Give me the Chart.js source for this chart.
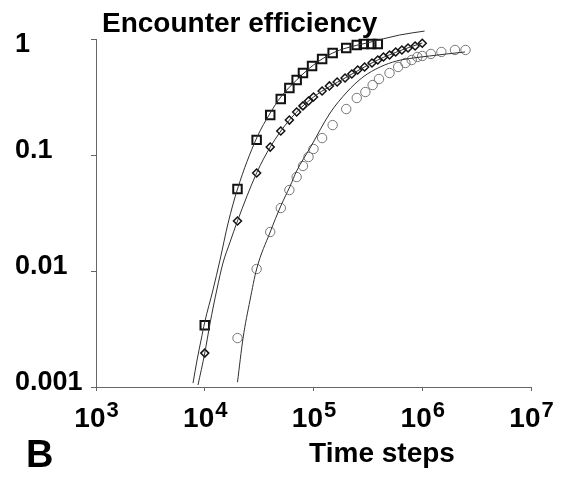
<!DOCTYPE html>
<html>
<head>
<meta charset="utf-8">
<script src="https://cdn.jsdelivr.net/npm/chart.js@4/dist/chart.umd.min.js"></script>
<style>
  body { margin: 0; background: #ffffff; }
</style>
</head>
<body>
<canvas id="chart" width="571" height="480"></canvas>
<script>
// Tick labels
const xTickExps = [3, 4, 5, 6, 7];
const yTickValues = [0.001, 0.01, 0.1, 1];
const yTickLabels = ["0.001", "0.01", "0.1", "1"];

// Measured points (squares)
const squareSteps = [1e4, 2e4, 3e4, 4e4, 5e4, 6e4, 7e4, 8e4, 9.7e4, 1.2e5, 1.5e5, 2e5, 2.5e5, 2.9e5, 3.4e5, 3.9e5];
const squareEff = [0.0034, 0.051, 0.135, 0.221, 0.304, 0.378, 0.443, 0.509, 0.585, 0.672, 0.757, 0.836, 0.888, 0.906, 0.906, 0.906];

// Measured points (diamonds)
const diamondSteps = [1e4, 2e4, 3e4, 4e4, 5e4, 6e4, 7e4, 8e4, 9e4, 1e5,
    1.2e5, 1.4e5, 1.65e5, 1.95e5, 2.25e5, 2.55e5, 2.95e5, 3.45e5, 3.9e5, 4.4e5,
    5e5, 5.7e5, 6.5e5, 7.4e5, 8.6e5, 1e6];
const diamondEff = [0.00196, 0.027, 0.070, 0.117, 0.161, 0.200, 0.235, 0.265, 0.292, 0.316,
    0.356, 0.394, 0.426, 0.461, 0.499, 0.541, 0.574, 0.621, 0.659, 0.700,
    0.728, 0.773, 0.804, 0.836, 0.870, 0.92];

// Measured points (circles)
const circleSteps = [2e4, 3e4, 4e4, 5e4, 6e4, 7e4, 8e4, 9e4, 1e5, 1.2e5, 1.5e5, 2e5, 2.5e5,
    3e5, 3.5e5, 4e5, 5e5, 6e5, 7e5, 8e5, 9e5, 1e6, 1.2e6, 1.5e6, 2e6, 2.5e6];
const circleEff = [0.00264, 0.0104, 0.0217, 0.0349, 0.0499, 0.0646, 0.0804, 0.0961, 0.1127, 0.140, 0.181, 0.249, 0.310,
    0.349, 0.401, 0.452, 0.509, 0.574, 0.621, 0.659, 0.700, 0.714, 0.743, 0.773, 0.804, 0.804];

// Fitted curves
const squareFitSteps = [7.8e3, 8.5e3, 9.25e3, 1e4, 1.19e4, 1.38e4, 1.64e4, 2e4, 3e4, 4e4, 5e4, 7e4, 1e5, 1.5e5, 2e5, 3.1e5, 6.2e5, 1.05e6];
const squareFitEff = [0.00108, 0.00171, 0.00254, 0.00363, 0.00686, 0.0124, 0.0259, 0.0509, 0.140, 0.230, 0.316, 0.443, 0.597, 0.757, 0.836, 0.924, 1.083, 1.17];

const diamondFitSteps = [8.67e3, 1e4, 1.12e4, 1.29e4, 1.47e4, 1.71e4, 2e4, 3e4, 4e4, 6e4, 1e5, 1.95e5, 3.9e5, 6.5e5, 1e6];
const diamondFitEff = [0.00104, 0.00196, 0.00356, 0.00686, 0.0117, 0.0178, 0.027, 0.070, 0.117, 0.200, 0.316, 0.461, 0.659, 0.804, 0.924];

const circleFitSteps = [2e4, 2.25e4, 2.61e4, 3e4, 4e4, 5e4, 6.1e4, 7e4, 9.3e4, 1.42e5, 2.03e5, 2.85e5, 4.1e5, 5.8e5, 8.3e5, 1.17e6, 1.68e6, 2.47e6];
const circleFitEff = [0.0011, 0.00264, 0.00562, 0.0104, 0.0217, 0.0363, 0.054, 0.0728, 0.115, 0.230, 0.349, 0.470, 0.574, 0.646, 0.686, 0.714, 0.743, 0.773];

const toPoints = (xs, ys) => xs.map((x, i) => ({ x: x, y: ys[i] }));

const FONT = "'Liberation Sans', Arial, sans-serif";
const AXIS_COLOR = "#666666";

// Texts: tick labels with superscripts, title, axis title, panel letter
const textPlugin = {
    id: "textPlugin",
    afterDraw(chart) {
        const ctx = chart.ctx;
        const xs = chart.scales.x;
        const ys = chart.scales.y;
        const area = chart.chartArea;
        ctx.save();
        ctx.fillStyle = "#000000";
        ctx.textBaseline = "alphabetic";

        // y tick labels, left aligned
        ctx.font = "bold 27px " + FONT;
        ctx.textAlign = "left";
        ys.ticks.forEach((t) => {
            const i = yTickValues.indexOf(t.value);
            const py = Math.max(ys.getPixelForValue(t.value) + 3, area.top + 13);
            ctx.fillText(yTickLabels[i], 15, py);
        });

        // x tick labels 10^n
        xs.ticks.forEach((t, i) => {
            const px = xs.getPixelForValue(t.value);
            const exp = String(xTickExps[i]);
            ctx.font = "bold 28px " + FONT;
            const w1 = ctx.measureText("10").width;
            ctx.font = "bold 22px " + FONT;
            const w2 = ctx.measureText(exp).width;
            const left = px - (w1 + w2) / 2;
            ctx.font = "bold 28px " + FONT;
            ctx.fillText("10", left, xs.top + 40);
            ctx.font = "bold 22px " + FONT;
            ctx.fillText(exp, left + w1 + 1, xs.top + 30);
        });

        // title
        ctx.font = "bold 28px " + FONT;
        ctx.fillText("Encounter efficiency", 102, 32);

        // x axis title
        ctx.textAlign = "center";
        ctx.fillText("Time steps", 382, 462);

        // panel letter
        ctx.textAlign = "left";
        ctx.font = "bold 38px " + FONT;
        ctx.fillText("B", 26, 467);
        ctx.restore();
    },
};

const fitStyle = {
    showLine: true,
    pointRadius: 0,
    borderColor: "#303030",
    borderWidth: 1,
    cubicInterpolationMode: "monotone",
    clip: false,
};

const ctx = document.getElementById("chart").getContext("2d");
new Chart(ctx, {
    type: "scatter",
    data: {
        datasets: [
            { ...fitStyle, data: toPoints(squareFitSteps, squareFitEff) },
            { ...fitStyle, data: toPoints(diamondFitSteps, diamondFitEff) },
            { ...fitStyle, data: toPoints(circleFitSteps, circleFitEff) },
            {
                data: toPoints(squareSteps, squareEff),
                pointStyle: "rect",
                pointRadius: 6,
                borderColor: "#111111",
                backgroundColor: "rgba(0,0,0,0)",
                pointBorderWidth: 2,
                clip: false,
            },
            {
                data: toPoints(diamondSteps, diamondEff),
                pointStyle: "rectRot",
                pointRadius: 4,
                borderColor: "#111111",
                backgroundColor: "rgba(0,0,0,0)",
                pointBorderWidth: 1.5,
                clip: false,
            },
            {
                data: toPoints(circleSteps, circleEff),
                pointStyle: "circle",
                pointRadius: 4.7,
                borderColor: "#777777",
                backgroundColor: "rgba(0,0,0,0)",
                pointBorderWidth: 1,
                clip: false,
            },
        ],
    },
    options: {
        responsive: false,
        animation: false,
        layout: {
            padding: { left: 91, right: 40, top: 39, bottom: 89 },
        },
        plugins: {
            legend: { display: false },
            tooltip: { enabled: false },
            title: { display: false },
        },
        scales: {
            x: {
                type: "logarithmic",
                min: 1e3,
                max: 1e7,
                afterBuildTicks: (scale) => {
                    scale.ticks = xTickExps.map((e) => ({ value: Math.pow(10, e) }));
                },
                ticks: { display: false },
                grid: { drawOnChartArea: false, drawTicks: true, tickLength: 4, color: AXIS_COLOR },
                border: { color: AXIS_COLOR, width: 1 },
            },
            y: {
                type: "logarithmic",
                min: 0.001,
                max: 1,
                afterBuildTicks: (scale) => {
                    scale.ticks = yTickValues.map((v) => ({ value: v }));
                },
                ticks: { display: false },
                grid: { drawOnChartArea: false, drawTicks: true, tickLength: 5, color: AXIS_COLOR },
                border: { color: AXIS_COLOR, width: 1 },
            },
        },
    },
    plugins: [textPlugin],
});
</script>
</body>
</html>
